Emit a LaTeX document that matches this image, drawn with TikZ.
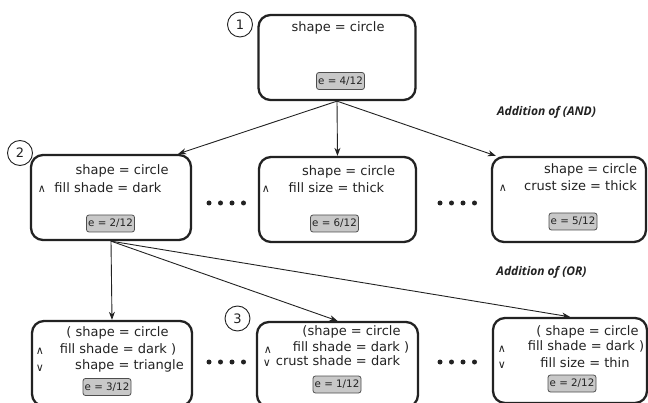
\documentclass[tikz,border=0pt]{standalone}
\usepackage{fontspec}
\setmainfont{DejaVu Sans}
\newfontfamily\addfont{Open Sans}
\usetikzlibrary{arrows.meta}
\definecolor{egray}{HTML}{C8C8C8}
\definecolor{ink}{HTML}{222222}
\begin{document}
\begin{tikzpicture}[x=1pt,y=-1pt,
  box/.style={draw=ink, line width=2.3pt, rounded corners=12pt, inner sep=0pt},
  txt/.style={font=\fontsize{13}{15}\selectfont, inner sep=0pt, text=ink, anchor=base},
  opr/.style={font=\fontsize{11}{12}\selectfont, inner sep=0pt, text=ink},
  ebox/.style={draw=ink!80, fill=egray, line width=0.8pt, rounded corners=2.5pt,
    minimum width=48pt, minimum height=17pt, inner sep=0pt,
    font=\fontsize{10.3}{12}\selectfont, text=ink},
  num/.style={draw=ink, circle, line width=0.9pt, minimum size=25pt, inner sep=0pt,
    font=\fontsize{13}{15}\selectfont, text=ink},
  lbl/.style={font=\addfont\bfseries\itshape\fontsize{12}{14}\selectfont, text=ink, inner sep=0pt},
  arr/.style={draw=ink, line width=0.9pt, -{Stealth[length=8pt,width=6pt,inset=2.5pt]}},
  dot/.style={circle, fill=ink, minimum size=5pt, inner sep=0pt}]
\useasboundingbox (0,0) rectangle (648,403);

% boxes
\node[box, minimum width=157pt, minimum height=85pt] (b1) at (337,57.5) {};
\node[box, minimum width=160pt, minimum height=85pt] (b2) at (111,197.5) {};
\node[box, minimum width=157pt, minimum height=85pt] (b3) at (337.5,199.5) {};
\node[box, minimum width=154pt, minimum height=85pt] (b4) at (569,199.5) {};
\node[box, minimum width=160pt, minimum height=85pt] (b5) at (112,363.5) {};
\node[box, minimum width=161pt, minimum height=85pt] (b6) at (337.5,364.5) {};
\node[box, minimum width=154pt, minimum height=85pt] (b7) at (570,360.5) {};

% numbered circles
\node[num] (n1) at (240,24.5) {1};
\node[num] (n2) at (20,153) {2};
\node[num] (n3) at (237.5,318.5) {3};

% box 1
\node[txt] (t11) at (338,32) {shape = circle};
\node[ebox] (e1) at (340.5,81) {e = 4/12};

% box 2
\node[txt] (t21) at (122,175) {shape = circle};
\node[opr] (o21) at (42,189.5) {∧};
\node[txt] (t22) at (108,193) {fill shade = dark};
\node[ebox] (e2) at (110.5,223.5) {e = 2/12};

% box 3
\node[txt] (t31) at (348.5,176) {shape = circle};
\node[opr] (o31) at (266,189) {∧};
\node[txt] (t32) at (336.5,193) {fill size = thick};
\node[ebox] (e3) at (334.5,223.5) {e = 6/12};

% box 4
\node[txt] (t41) at (590.5,174) {shape = circle};
\node[opr] (o41) at (503,188) {∧};
\node[txt] (t42) at (580.5,191) {crust size = thick};
\node[ebox] (e4) at (573,221.5) {e = 5/12};

% box 5
\node[txt] (t51) at (117.5,337) {( shape = circle};
\node[txt] (t52) at (118,353) {fill shade = dark )};
\node[txt] (t53) at (129.5,369) {shape = triangle};
\node[opr] (o51) at (40,351) {∧};
\node[opr] (o52) at (40,368) {∨};
\node[ebox] (e5) at (107,387) {e = 3/12};

% box 6
\node[txt] (t61) at (351.5,336) {(shape = circle};
\node[txt] (t62) at (351,352) {fill shade = dark )};
\node[txt] (t63) at (338,366) {crust shade = dark};
\node[opr] (o61) at (268,350) {∧};
\node[opr] (o62) at (267,363.5) {∨};
\node[ebox] (e6) at (337,384.5) {e = 1/12};

% box 7
\node[txt] (t71) at (587.5,335) {( shape = circle};
\node[txt] (t72) at (586,351) {fill shade = dark )};
\node[txt] (t73) at (585,367) {fill size = thin};
\node[opr] (o71) at (502,349.5) {∧};
\node[opr] (o72) at (502,365.5) {∨};
\node[ebox] (e7) at (572,383.5) {e = 2/12};

% labels
\node[lbl] (la) at (546.5,112) {Addition of (AND)};
\node[lbl] (lo) at (541.5,272) {Addition of (OR)};

% dots
\foreach \x [count=\i] in {209,220.5,232,243.5} {
  \node[dot] (da\i) at (\x,203) {};
  \node[dot] (dc\i) at (\x,362) {};
}
\foreach \x [count=\i] in {440,451.5,463,474.5} {
  \node[dot] (db\i) at (\x,203) {};
  \node[dot] (dd\i) at (\x,362) {};
}

% arrows
\coordinate (s1) at (b1.south);
\coordinate (s2) at (b2.south);
\draw[arr] (s1) -- ([xshift=-14pt]b2.north east);
\draw[arr] (s1) -- (b3.north);
\draw[arr] (s1) -- ([xshift=5pt]b4.north west);
\draw[arr] (s2) -- (b5.north);
\draw[arr] (s2) -- (b6.north);
\draw[arr] (s2) -- (b7.north);
\end{tikzpicture}
\end{document}
